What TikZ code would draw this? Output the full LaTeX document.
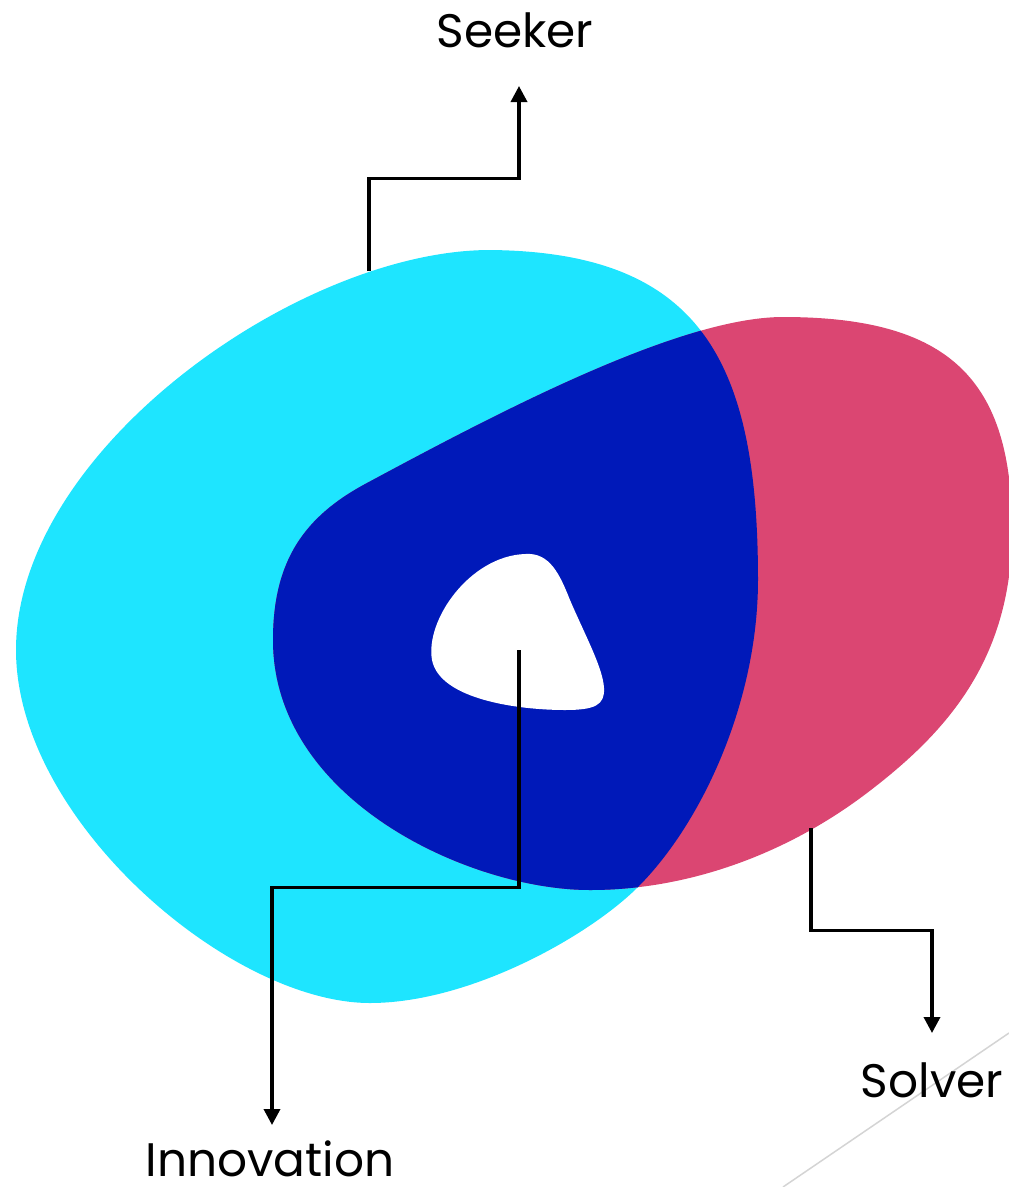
\documentclass[tikz,border=0pt]{standalone}
\usepackage{fontspec}
\setmainfont{Poppins}
\usepackage{tikz}
\usetikzlibrary{arrows.meta,calc,positioning}
\definecolor{SeekCyan}{RGB}{30,229,255}
\definecolor{SolvePink}{RGB}{219,70,114}
\definecolor{BothBlue}{RGB}{0,25,185}
\definecolor{EdgeGray}{RGB}{212,212,212}

% blob outlines, in pixel units (y grows downwards)
\newcommand{\seekshape}{(490,250) .. controls (700,252) and (758,360) .. (758,580)
  .. controls (758,700) and (703,822) .. (638,887)
  .. controls (589,936) and (470,1003) .. (370,1003)
  .. controls (230,1003) and (16,820) .. (16,650)
  .. controls (16,450) and (300,250) .. (490,250) -- cycle}
\newcommand{\solveshape}{(783,317) .. controls (950,317) and (1012,380) .. (1012,530)
  .. controls (1012,660) and (946,733) .. (867,793)
  .. controls (788,853) and (690,890) .. (590,890)
  .. controls (470,890) and (273,800) .. (273,640)
  .. controls (273,560) and (305,516) .. (367,483)
  .. controls (499,412) and (680,317) .. (783,317) -- cycle}
\newcommand{\coreshape}{(525,554) .. controls (550,552) and (560,575) .. (570,600)
  .. controls (585,635) and (603,668) .. (604,688)
  .. controls (605,705) and (595,710) .. (565,710)
  .. controls (520,710) and (440,700) .. (432,660)
  .. controls (425,620) and (470,556) .. (525,554) -- cycle}

\begin{document}
\begin{tikzpicture}[x=1pt,y=-1pt,
  lbl/.style={font=\fontsize{47}{56}\selectfont,inner sep=0pt,anchor=base},
  link/.style={line width=3.5pt,-{Triangle[width=16pt,length=16pt]}},
]
\useasboundingbox (0,0) rectangle (1009,1187);

\begin{scope}
  \clip (0,0) rectangle (1009,1187);
  \fill[SeekCyan] \seekshape;
  \fill[SolvePink] \solveshape;
  \clip \seekshape;
  \fill[BothBlue] \solveshape;
\end{scope}
\fill[white] \coreshape;

\draw[EdgeGray,line width=1.5pt] (783,1187) -- (1009,1033);

\coordinate (seekpt) at (369,271);
\coordinate (solvept) at (811,828);
\coordinate (innopt) at (519,650);
\coordinate (seektip) at (519,86);
\coordinate (solvetip) at (932,1033);
\coordinate (innotip) at (272,1125);

\node[lbl] (seeker) at (515,47) {Seeker};
\node[lbl] (solver) at (932,1097) {Solver};
\node[lbl] (innov) at (270,1176) {Innovation};

\draw[link] (seekpt) |- ($(seekpt)!.5!(seektip)$) -| (seektip);
\draw[link] (solvept) |- ($(solvept)!.5!(solvetip)$) -| (solvetip);
\draw[link] (innopt) |- ($(innopt)!.5!(innotip)$) -| (innotip);
\end{tikzpicture}
\end{document}
